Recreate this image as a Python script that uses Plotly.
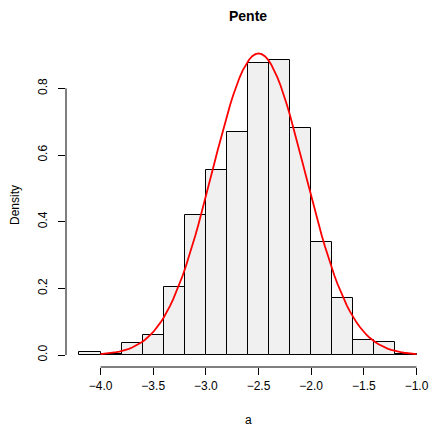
import numpy as np
import plotly.graph_objects as go

# Histogram data (density per bin)
bin_edges_left = [-4.2, -4.0, -3.8, -3.6, -3.4, -3.2, -3.0, -2.8, -2.6, -2.4, -2.2, -2.0, -1.8, -1.6, -1.4, -1.2]
bin_width = 0.2
densities = [0.009, 0.004, 0.035, 0.060, 0.205, 0.420, 0.554, 0.670, 0.876, 0.885, 0.680, 0.340, 0.170, 0.045, 0.039, 0.004]

# Fitted normal curve parameters
fit_mean = -2.5
fit_sd = 0.441
curve_from, curve_to = -4.0, -1.0

x_ticks = [-4.0, -3.5, -3.0, -2.5, -2.0, -1.5, -1.0]
y_ticks = [0.0, 0.2, 0.4, 0.6, 0.8]

title_text = "Pente"
x_title = "a"
y_title = "Density"

centers = [l + bin_width / 2 for l in bin_edges_left]
cx = np.linspace(curve_from, curve_to, 101)
cy = np.exp(-0.5 * ((cx - fit_mean) / fit_sd) ** 2) / (fit_sd * np.sqrt(2 * np.pi))

FONT = "Liberation Sans, Arial, Helvetica, sans-serif"

fig = go.Figure()
fig.add_trace(go.Bar(
    x=centers, y=densities, width=[bin_width] * len(centers),
    marker=dict(color="#F0F0F0", line=dict(color="black", width=1)),
    hoverinfo="skip",
))
fig.add_trace(go.Scatter(
    x=cx, y=cy, mode="lines", line=dict(color="#FF0000", width=1.8),
    hoverinfo="skip",
))

xr = [-4.328, -0.872]
yr = [-0.036, 0.936]

fig.update_layout(
    width=430, height=426,
    margin=dict(l=66, r=0, t=43, b=59, pad=0),
    paper_bgcolor="white", plot_bgcolor="white",
    showlegend=False, bargap=0,
    font=dict(family=FONT, size=12, color="black"),
    xaxis=dict(range=xr, tickvals=x_ticks, tickformat=".1f", ticks="outside",
               ticklen=7, tickwidth=1, tickcolor="black", showgrid=False,
               zeroline=False, showline=False, ticklabelstandoff=1,
               tickfont=dict(size=12, family=FONT)),
    yaxis=dict(range=yr, tickvals=y_ticks, tickformat=".1f", ticks="outside",
               ticklen=7, tickwidth=1, tickcolor="black", showgrid=False,
               zeroline=False, showline=False, tickangle=-90, ticklabelstandoff=6,
               tickfont=dict(size=12, family=FONT)),
    shapes=[
        dict(type="line", xref="x", yref="paper", x0=x_ticks[0], x1=x_ticks[-1], y0=0, y1=0,
             line=dict(color="black", width=1)),
        dict(type="line", xref="paper", yref="y", x0=0, x1=0, y0=y_ticks[0], y1=y_ticks[-1],
             line=dict(color="black", width=1)),
    ],
    annotations=[
        dict(text="<b>" + title_text + "</b>", xref="paper", yref="paper", x=0.5, y=1,
             yshift=27, showarrow=False, font=dict(size=14, family=FONT), yanchor="middle"),
        dict(text=x_title, xref="paper", yref="paper", x=0.5, y=0, yshift=-53,
             showarrow=False, font=dict(size=12, family=FONT), yanchor="middle"),
        dict(text=y_title, xref="paper", yref="paper", x=0, y=0.5, xshift=-51,
             showarrow=False, textangle=-90, font=dict(size=12, family=FONT), xanchor="center"),
    ],
)

fig.write_html("out.html")
